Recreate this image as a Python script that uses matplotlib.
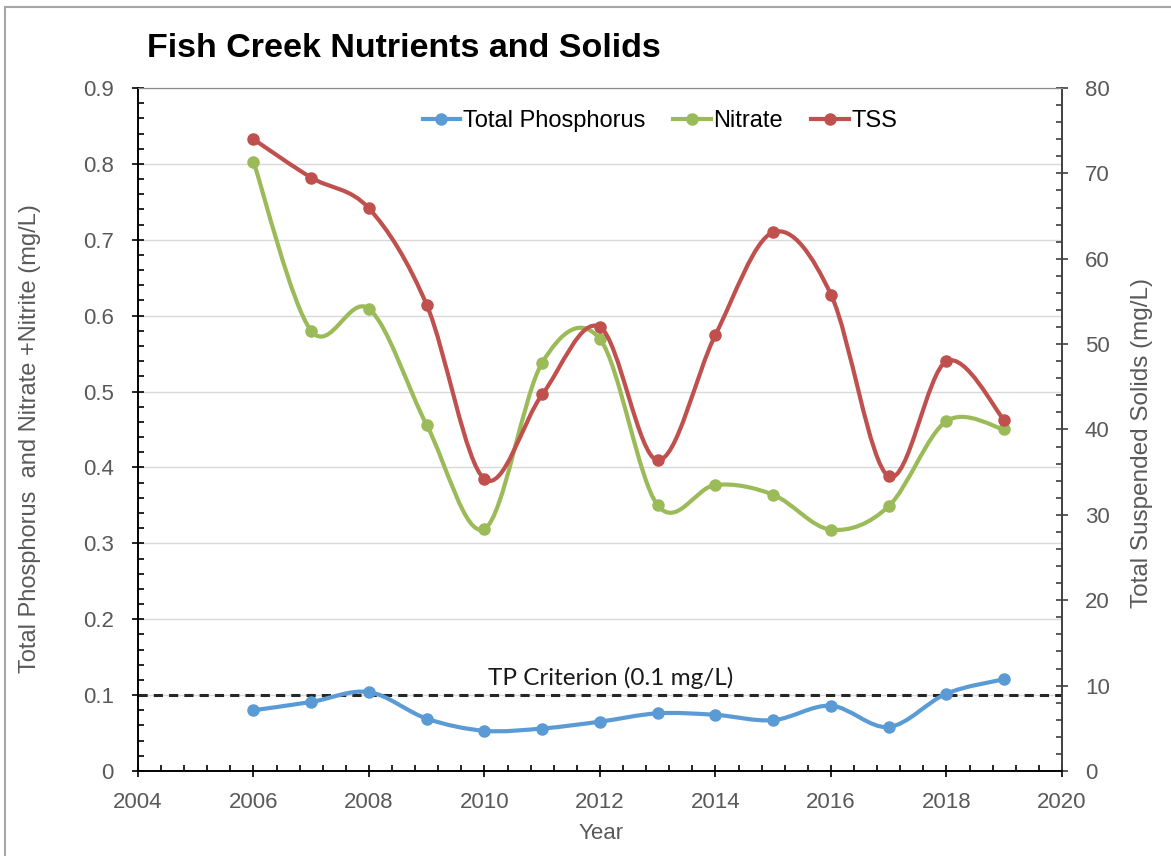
import matplotlib
matplotlib.use("Agg")
import matplotlib.pyplot as plt
from matplotlib.path import Path
from matplotlib.patches import PathPatch
from matplotlib.lines import Line2D
from matplotlib.ticker import MultipleLocator

plt.rcParams['font.family'] = ['Liberation Sans', 'DejaVu Sans']

# data
years = [2006, 2007, 2008, 2009, 2010, 2011, 2012, 2013, 2014, 2015, 2016, 2017, 2018, 2019]
tp = [0.080, 0.091, 0.104, 0.069, 0.053, 0.056, 0.065, 0.076, 0.074, 0.067, 0.086, 0.058, 0.102, 0.121]
nitrate = [0.803, 0.580, 0.609, 0.456, 0.319, 0.538, 0.569, 0.350, 0.377, 0.364, 0.318, 0.349, 0.461, 0.450]
tss = [74.0, 69.5, 65.9, 54.6, 34.2, 44.1, 52.0, 36.4, 51.1, 63.1, 55.8, 34.5, 48.0, 41.1]
tp_criterion = 0.1

blue = '#5B9BD5'
green = '#9BBB59'
red = '#C0504D'
gray = '#595959'


def smooth_path(xs, ys):
    # excel style smoothed line: bezier segments through every point
    n = len(xs)
    verts = [(xs[0], ys[0])]
    codes = [Path.MOVETO]
    for i in range(n - 1):
        x0, y0 = (xs[i - 1], ys[i - 1]) if i > 0 else (xs[i], ys[i])
        x3, y3 = (xs[i + 2], ys[i + 2]) if i + 2 < n else (xs[i + 1], ys[i + 1])
        c1 = (xs[i] + (xs[i + 1] - x0) / 6, ys[i] + (ys[i + 1] - y0) / 6)
        c2 = (xs[i + 1] - (x3 - xs[i]) / 6, ys[i + 1] - (y3 - ys[i]) / 6)
        verts += [c1, c2, (xs[i + 1], ys[i + 1])]
        codes += [Path.CURVE4] * 3
    return Path(verts, codes)


def draw_series(axis, xs, ys, color, z):
    patch = PathPatch(smooth_path(xs, ys), fill=False, edgecolor=color, lw=3,
                      capstyle='round', joinstyle='round', zorder=z)
    axis.add_patch(patch)
    axis.plot(xs, ys, 'o', color=color, ms=8, zorder=z + 0.1)


fig = plt.figure(figsize=(11.71, 8.56), dpi=100)
ax = fig.add_axes([0.1178, 0.0993, 0.7891, 0.7979])
ax2 = ax.twinx()

ax.set_xlim(2004, 2020)
ax.set_ylim(0, 0.9)
ax2.set_ylim(0, 80)

ax.yaxis.grid(True, color='#D9D9D9', lw=1)
ax.set_axisbelow(True)

draw_series(ax, years, tp, blue, 3)
draw_series(ax, years, nitrate, green, 3)
draw_series(ax2, years, tss, red, 3)

ax.axhline(tp_criterion, color='#262626', lw=2.2, ls=(0, (3, 2)), zorder=2.5)
ax.text(2012.19, 0.1225, 'TP Criterion (0.1 mg/L)', ha='center', va='center',
        fontsize=17.5, family=['Lato', 'DejaVu Sans'], color='#1a1a1a')

# ticks
ax.xaxis.set_major_locator(MultipleLocator(2))
ax.xaxis.set_minor_locator(MultipleLocator(0.4))
ax.yaxis.set_major_locator(MultipleLocator(0.1))
ax.yaxis.set_minor_locator(MultipleLocator(0.02))
ax2.yaxis.set_major_locator(MultipleLocator(10))
ax2.yaxis.set_minor_locator(MultipleLocator(2))
ax.yaxis.set_major_formatter(plt.FuncFormatter(lambda v, p: '0' if v == 0 else f'{v:.1f}'))

ax.tick_params(axis='both', which='major', direction='inout', length=9, width=1.2,
               labelsize=16, labelcolor=gray, color='black')
ax.tick_params(axis='x', which='major', pad=10.5)
ax.tick_params(axis='y', which='major', pad=13)
ax.tick_params(axis='both', which='minor', direction='in', length=4, width=1.2, color='black')
ax2.tick_params(axis='y', which='major', direction='inout', length=9, width=1.2,
                labelsize=16, labelcolor=gray, color='#404040', pad=12)
ax2.tick_params(axis='y', which='minor', direction='in', length=4, width=1.2, color='#404040')

for a in (ax, ax2):
    a.spines['top'].set_color('#8C8C8C')
    a.spines['left'].set_color('black')
    a.spines['bottom'].set_color('black')
    a.spines['right'].set_color('#404040')
    a.spines['left'].set_linewidth(1.2)
    a.spines['bottom'].set_linewidth(1.2)
    a.spines['right'].set_linewidth(1.2)

ax.set_xlabel('Year', fontsize=16, color=gray, va='top')
ax.xaxis.set_label_coords(0.501, -0.0761)
ax.set_ylabel('Total Phosphorus  and Nitrate +Nitrite (mg/L)', fontsize=17, color=gray, va='center')
ax.yaxis.set_label_coords(-0.1169, 0.486)
ax2.set_ylabel('Total Suspended Solids (mg/L)', fontsize=17.5, color=gray, va='center')
ax2.yaxis.set_label_coords(1.0866, 0.480)

handles = [Line2D([], [], color=c, lw=3, marker='o', ms=8) for c in (blue, green, red)]
ax.legend(handles, ['Total Phosphorus', 'Nitrate', 'TSS'], loc='center', bbox_to_anchor=(0.565, 0.952),
          ncol=3, frameon=False, fontsize=17, handlelength=1.6, handletextpad=0.1, columnspacing=1.2)

fig.text(0.1255, 0.9334, 'Fish Creek Nutrients and Solids', fontsize=24.5, fontweight='bold',
         ha='left', va='baseline')

# chart area border (only top and left visible)
fig.add_artist(Line2D([0.0043, 1.0], [0.9918, 0.9918], color='#A6A6A6', lw=1.5))
fig.add_artist(Line2D([0.0043, 0.0043], [0.0, 0.9918], color='#A6A6A6', lw=1.5))

fig.savefig('out.png', dpi=100)
